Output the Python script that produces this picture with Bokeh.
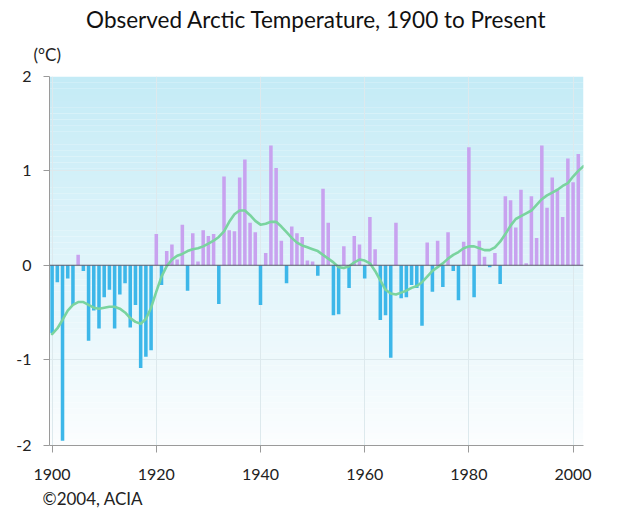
from bokeh.plotting import figure
from bokeh.models import Range1d, FixedTicker, Title, ColumnDataSource, Span
from bokeh.embed import file_html
from bokeh.resources import INLINE

# ---------------- data ----------------
years = list(range(1900, 2002))
anomaly = [
    -0.72, -0.18, -1.86, -0.14, -0.42, 0.11, -0.06, -0.80, -0.48, -0.67,   # 1900s
    -0.34, -0.26, -0.67, -0.31, -0.19, -0.66, -0.42, -1.09, -0.97, -0.90,  # 1910s
    0.33, -0.21, 0.15, 0.22, 0.06, 0.43, -0.27, 0.34, 0.04, 0.37,          # 1920s
    0.31, 0.33, -0.41, 0.94, 0.37, 0.36, 0.93, 1.12, 0.45, 0.35,           # 1930s
    -0.42, 0.13, 1.27, 1.03, 0.26, -0.19, 0.41, 0.34, 0.30, 0.05,          # 1940s
    0.04, -0.11, 0.81, 0.45, -0.53, -0.52, 0.20, -0.24, 0.31, 0.22,        # 1950s
    -0.14, 0.51, 0.17, -0.58, -0.53, -0.98, 0.45, -0.35, -0.34, -0.21,     # 1960s
    -0.24, -0.64, 0.24, -0.28, 0.26, -0.23, 0.35, -0.06, -0.37, 0.25,      # 1970s
    1.25, -0.34, 0.26, 0.09, -0.02, 0.13, -0.20, 0.73, 0.69, 0.40,         # 1980s
    0.80, 0.02, 0.73, 0.29, 1.27, 0.61, 0.93, 0.80, 0.51, 1.13,            # 1990s
    0.88, 1.18,                                                            # 2000s
]
smooth_years = list(range(1900, 2003))
smooth = [
    -0.73, -0.67, -0.58, -0.48, -0.42, -0.39, -0.39, -0.42, -0.45, -0.46,
    -0.45, -0.44, -0.44, -0.46, -0.50, -0.56, -0.60, -0.62, -0.57, -0.45,
    -0.28, -0.12, -0.01, 0.06, 0.10, 0.12, 0.15, 0.17, 0.18, 0.20,
    0.23, 0.26, 0.30, 0.36, 0.46, 0.54, 0.58, 0.58, 0.53, 0.47,
    0.43, 0.44, 0.46, 0.46, 0.41, 0.35, 0.29, 0.24, 0.21, 0.19,
    0.17, 0.15, 0.11, 0.07, 0.03, -0.02, -0.03, -0.01, 0.03, 0.06,
    0.05, 0.02, -0.06, -0.16, -0.26, -0.30, -0.31, -0.29, -0.27, -0.24,
    -0.22, -0.18, -0.12, -0.06, -0.02, 0.02, 0.07, 0.11, 0.14, 0.18,
    0.20, 0.20, 0.18, 0.16, 0.16, 0.19, 0.25, 0.33, 0.42, 0.49,
    0.52, 0.55, 0.58, 0.64, 0.70, 0.74, 0.77, 0.80, 0.84, 0.87,
    0.94, 1.00, 1.05,
]
x_ticks = [1900, 1920, 1940, 1960, 1980, 2000]
y_ticks = [2, 1, 0, -1, -1.91]
y_tick_labels = {2: "2", 1: "1", 0: "0", -1: "-1", -1.91: "-2"}

title_text = "Observed Arctic Temperature, 1900 to Present"
unit_text = "(°C)"
credit_text = "©2004, ACIA"

FONT = "Lato"
POS_COLOR = "#c8a2ef"
NEG_COLOR = "#3db7e9"
LINE_COLOR = "#7ad49f"

# ---------------- figure ----------------
Y0, Y1 = -1.91, 2.0
X0, X1 = 1899.5, 2002.0
p = figure(width=620, height=513, output_backend="svg", toolbar_location=None,
           x_range=Range1d(X0, X1), y_range=Range1d(Y0, Y1),
           min_border_left=49, min_border_right=37, min_border_top=76,
           min_border_bottom=68)
p.title = None
p.outline_line_color = None
p.background_fill_color = "white"
p.border_fill_color = "white"

# background gradient (decoration)
n = 60
top_rgb = (0xc4, 0xeb, 0xf6)
bot_rgb = (0xfb, 0xfd, 0xfe)
bottoms, tops, cols = [], [], []
for i in range(n):
    b = Y0 + (Y1 - Y0) * i / n
    t = Y0 + (Y1 - Y0) * (i + 1) / n
    f = (i + 0.5) / n
    rgb = tuple(int(round(bot_rgb[k] + (top_rgb[k] - bot_rgb[k]) * f)) for k in range(3))
    bottoms.append(b)
    tops.append(t)
    cols.append("#%02x%02x%02x" % rgb)
p.quad(left=X0, right=X1, bottom=bottoms, top=tops, fill_color=cols,
       line_color=None, level="image")

# grid
p.xgrid.ticker = FixedTicker(ticks=x_ticks)
p.ygrid.ticker = FixedTicker(ticks=[1, -1])
p.xgrid.grid_line_color = "#dde9ed"
p.ygrid.grid_line_color = "#dde9ed"

# bars
bar_colors = [POS_COLOR if v >= 0 else NEG_COLOR for v in anomaly]
src = ColumnDataSource(dict(year=years, val=anomaly, color=bar_colors))
p.vbar(x="year", top="val", bottom=0, width=0.68, fill_color="color",
       line_color=None, source=src)

# zero line
p.add_layout(Span(location=0, dimension="width", line_color="#5b5b6b",
                  line_width=1.2))

# smoothed line
p.line(smooth_years, smooth, line_color=LINE_COLOR, line_width=2.6,
       line_join="round", line_cap="round")

# axes
for ax in (p.xaxis, p.yaxis):
    ax.axis_line_color = "#9a9a9a"
    ax.major_tick_line_color = "#9a9a9a"
    ax.minor_tick_line_color = None
    ax.major_tick_in = 0
    ax.major_label_text_font = FONT
    ax.major_label_text_font_size = "16px"
    ax.major_label_text_color = "#222222"

p.xaxis.ticker = FixedTicker(ticks=x_ticks)
p.xaxis.major_tick_out = 7
p.xaxis.major_label_standoff = 16
p.yaxis.ticker = FixedTicker(ticks=y_ticks)
p.yaxis.major_label_overrides = y_tick_labels
p.yaxis.major_tick_out = 6
p.yaxis.major_label_standoff = 12

# texts (titles in side panels)
p.add_layout(Title(text=unit_text, align="left", offset=-16, standoff=23,
                   text_font=FONT, text_font_size="17px", text_font_style="normal",
                   text_color="#222222"), "above")
p.add_layout(Title(text=title_text, align="center", standoff=-4,
                   text_font=FONT, text_font_size="22.5px", text_font_style="normal",
                   text_color="#111111"), "above")
p.add_layout(Title(text=credit_text, align="left", offset=-7, standoff=6,
                   text_font=FONT, text_font_size="17px", text_font_style="normal",
                   text_color="#222222"), "below")

open("out.html", "w").write(file_html(p, INLINE))
